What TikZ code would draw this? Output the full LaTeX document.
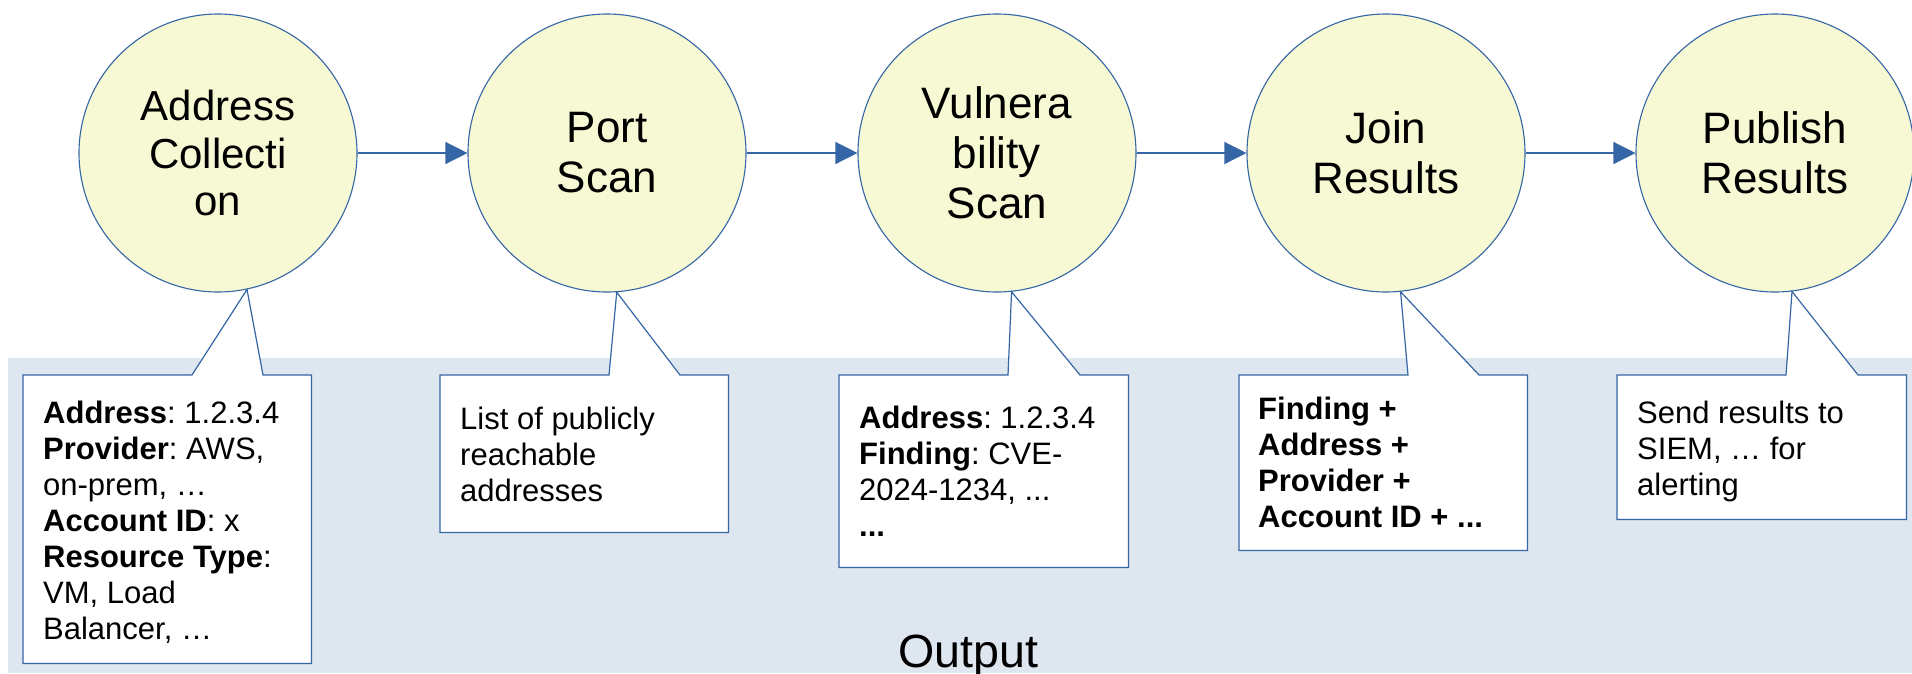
\documentclass[tikz,border=0pt]{standalone}
\usepackage{fontspec}
\setmainfont{Liberation Sans}
\usetikzlibrary{arrows.meta}
\frenchspacing
\definecolor{lineblue}{HTML}{3465A4}
\definecolor{circfill}{HTML}{F6F9D4}
\definecolor{bgpale}{HTML}{DEE6EF}
\newcommand{\bigfont}{\fontsize{44}{50}\selectfont}
\newcommand{\firstfont}{\fontsize{42}{47.5}\selectfont}
\newcommand{\outfont}{\fontsize{46.6}{52}\selectfont}
\newcommand{\notefont}{\fontsize{31}{36}\selectfont}
\tikzset{
  proc/.style={circle, draw=lineblue, line width=1.1pt, fill=circfill, minimum size=278pt, inner sep=0pt, align=center, font=\bigfont},
  flow/.style={draw=lineblue, line width=1.3pt, -{Triangle[length=22pt,width=22pt]}},
  boxspace/.style={rectangle, draw=none, inner sep=0pt, anchor=north west},
  callout/.style={draw=lineblue, line width=1.2pt, fill=white, line join=miter},
  notetext/.style={anchor=base west, inner sep=0pt, font=\notefont},
}
\begin{document}
\begin{tikzpicture}[x=1pt, y=-1pt]
\useasboundingbox (0,0) rectangle (1912,673);
% output area
\node[rectangle, fill=bgpale, inner sep=0pt, minimum width=1904pt, minimum height=315pt, anchor=north west] (outarea) at (8,358) {};
\node[anchor=base, inner sep=0pt, font=\outfont] (outlabel) at (968,667) {Output};

% process circles
\node[proc, font=\firstfont] (c1) at (218,153) {Address\\Collecti\\on};
\node[proc] (c2) at (607,153) {Port\\Scan};
\node[proc] (c3) at (997,153) {Vulnera\\bility\\Scan};
\node[proc] (c4) at (1386,153) {Join\\Results};
\node[proc] (c5) at (1775,153) {Publish\\Results};

\draw[flow] (c1.east) -- (c2.west);
\draw[flow] (c2.east) -- (c3.west);
\draw[flow] (c3.east) -- (c4.west);
\draw[flow] (c4.east) -- (c5.west);

% callout boxes
\node[boxspace, minimum width=288pt, minimum height=288pt] (b1) at (23,375) {};
\node[boxspace, minimum width=288pt, minimum height=157pt] (b2) at (440,375) {};
\node[boxspace, minimum width=289pt, minimum height=192pt] (b3) at (839,375) {};
\node[boxspace, minimum width=288pt, minimum height=175pt] (b4) at (1239,375) {};
\node[boxspace, minimum width=289pt, minimum height=144pt] (b5) at (1617,375) {};

\coordinate (p1a) at (192,375); \coordinate (p1b) at (263,375);
\coordinate (p2a) at (609,375); \coordinate (p2b) at (680,375);
\coordinate (p3a) at (1008,375); \coordinate (p3b) at (1080,375);
\coordinate (p4a) at (1408,375); \coordinate (p4b) at (1479,375);
\coordinate (p5a) at (1786,375); \coordinate (p5b) at (1858,375);

\draw[callout] (b1.north west) -- (p1a) -- (c1.-78) -- (p1b) -- (b1.north east) -- (b1.south east) -- (b1.south west) -- cycle;
\draw[callout] (b2.north west) -- (p2a) -- (c2.-86) -- (p2b) -- (b2.north east) -- (b2.south east) -- (b2.south west) -- cycle;
\draw[callout] (b3.north west) -- (p3a) -- (c3.-84) -- (p3b) -- (b3.north east) -- (b3.south east) -- (b3.south west) -- cycle;
\draw[callout] (b4.north west) -- (p4a) -- (c4.-84) -- (p4b) -- (b4.north east) -- (b4.south east) -- (b4.south west) -- cycle;
\draw[callout] (b5.north west) -- (p5a) -- (c5.-83) -- (p5b) -- (b5.north east) -- (b5.south east) -- (b5.south west) -- cycle;

% callout texts
\node[notetext] (t1) at (43,423) {\parbox[t]{270pt}{\raggedright
\textbf{Address}: 1.2.3.4\\
\textbf{Provider}: AWS,\\
on-prem, …\\
\textbf{Account ID}: x\\
\textbf{Resource Type}:\\
VM, Load\\
Balancer, …}};
\node[notetext] (t2) at (460,429) {\parbox[t]{270pt}{\raggedright
List of publicly\\
reachable\\
addresses}};
\node[notetext] (t3) at (859,428) {\parbox[t]{270pt}{\raggedright
\textbf{Address}: 1.2.3.4\\
\textbf{Finding}: CVE-\\
2024-1234, ...\\
\textbf{...}}};
\node[notetext] (t4) at (1258,419) {\parbox[t]{270pt}{\raggedright\bfseries
Finding +\\
Address +\\
Provider +\\
Account ID + ...}};
\node[notetext] (t5) at (1637,423) {\parbox[t]{270pt}{\raggedright
Send results to\\
SIEM, … for\\
alerting}};
\end{tikzpicture}
\end{document}
